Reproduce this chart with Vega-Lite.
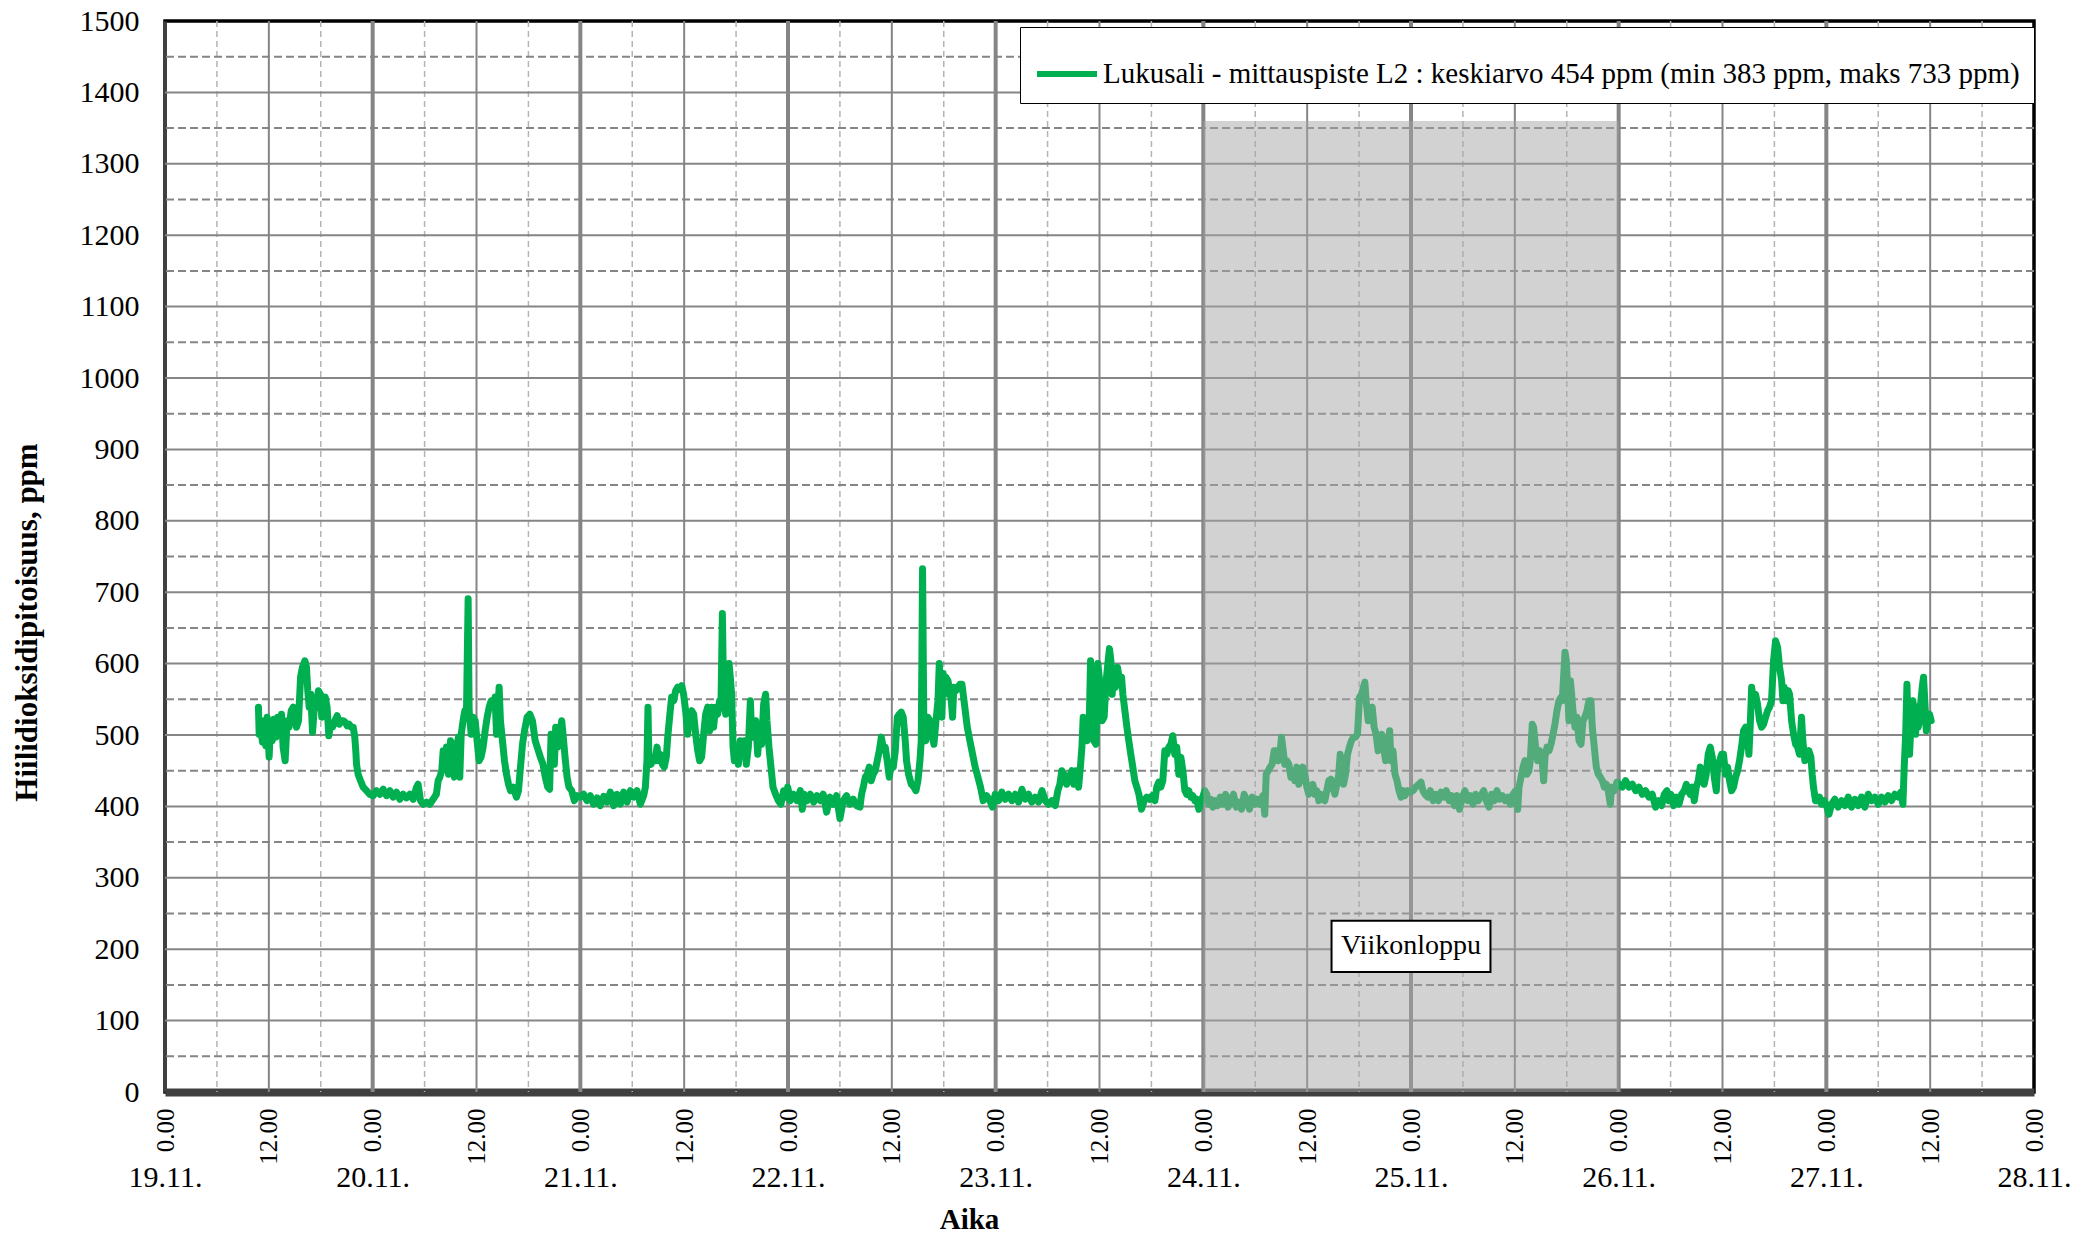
{
  "$schema": "https://vega.github.io/schema/vega-lite/v6.json",
  "width": 1869,
  "height": 1071,
  "autosize": {"type": "none"},
  "padding": {"left": 165, "top": 21, "right": 62, "bottom": 143},
  "background": "#ffffff",
  "config": {
    "font": "Liberation Serif",
    "view": {"stroke": "#000000", "strokeWidth": 3.5},
    "axis": {"labelFont": "Liberation Serif", "titleFont": "Liberation Serif", "labelColor": "#000000", "titleColor": "#000000", "ticks": false, "labelFlush": false, "labelOverlap": false, "grid": false}
  },
  "datasets": {
    "co2": [
      {"t":"2012-11-19T10:48","ppm":539},{"t":"2012-11-19T10:53","ppm":501},{"t":"2012-11-19T11:04","ppm":508},{"t":"2012-11-19T11:16","ppm":490},{"t":"2012-11-19T11:25","ppm":520},{"t":"2012-11-19T11:39","ppm":485},{"t":"2012-11-19T11:48","ppm":525},{"t":"2012-11-19T12:02","ppm":469},{"t":"2012-11-19T12:12","ppm":515},{"t":"2012-11-19T12:23","ppm":492},{"t":"2012-11-19T12:35","ppm":522},{"t":"2012-11-19T12:49","ppm":497},{"t":"2012-11-19T13:02","ppm":525},{"t":"2012-11-19T13:16","ppm":501},{"t":"2012-11-19T13:28","ppm":529},{"t":"2012-11-19T13:39","ppm":483},{"t":"2012-11-19T13:53","ppm":464},{"t":"2012-11-19T14:07","ppm":520},{"t":"2012-11-19T14:21","ppm":511},{"t":"2012-11-19T14:35","ppm":534},{"t":"2012-11-19T14:49","ppm":539},{"t":"2012-11-19T15:03","ppm":534},{"t":"2012-11-19T15:12","ppm":511},{"t":"2012-11-19T15:26","ppm":520},{"t":"2012-11-19T15:40","ppm":581},{"t":"2012-11-19T15:53","ppm":595},{"t":"2012-11-19T16:10","ppm":604},{"t":"2012-11-19T16:21","ppm":595},{"t":"2012-11-19T16:30","ppm":562},{"t":"2012-11-19T16:40","ppm":539},{"t":"2012-11-19T16:51","ppm":557},{"t":"2012-11-19T17:03","ppm":504},{"t":"2012-11-19T17:14","ppm":534},{"t":"2012-11-19T17:30","ppm":543},{"t":"2012-11-19T17:44","ppm":562},{"t":"2012-11-19T17:58","ppm":557},{"t":"2012-11-19T18:07","ppm":525},{"t":"2012-11-19T18:17","ppm":548},{"t":"2012-11-19T18:31","ppm":553},{"t":"2012-11-19T18:44","ppm":539},{"t":"2012-11-19T18:56","ppm":499},{"t":"2012-11-19T19:08","ppm":515},{"t":"2012-11-19T19:21","ppm":511},{"t":"2012-11-19T19:38","ppm":520},{"t":"2012-11-19T19:54","ppm":527},{"t":"2012-11-19T20:08","ppm":515},{"t":"2012-11-19T20:21","ppm":520},{"t":"2012-11-19T20:35","ppm":520},{"t":"2012-11-19T20:49","ppm":518},{"t":"2012-11-19T21:03","ppm":513},{"t":"2012-11-19T21:17","ppm":515},{"t":"2012-11-19T21:31","ppm":511},{"t":"2012-11-19T21:45","ppm":511},{"t":"2012-11-19T21:56","ppm":497},{"t":"2012-11-19T22:03","ppm":478},{"t":"2012-11-19T22:08","ppm":459},{"t":"2012-11-19T22:19","ppm":445},{"t":"2012-11-19T22:36","ppm":436},{"t":"2012-11-19T22:54","ppm":427},{"t":"2012-11-19T23:17","ppm":422},{"t":"2012-11-19T23:40","ppm":417},
      {"t":"2012-11-20T00:03","ppm":415},{"t":"2012-11-20T00:26","ppm":422},{"t":"2012-11-20T00:50","ppm":417},{"t":"2012-11-20T01:13","ppm":424},{"t":"2012-11-20T01:36","ppm":415},{"t":"2012-11-20T01:59","ppm":422},{"t":"2012-11-20T02:22","ppm":413},{"t":"2012-11-20T02:45","ppm":420},{"t":"2012-11-20T03:08","ppm":410},{"t":"2012-11-20T03:31","ppm":417},{"t":"2012-11-20T03:54","ppm":412},{"t":"2012-11-20T04:18","ppm":417},{"t":"2012-11-20T04:41","ppm":410},{"t":"2012-11-20T05:04","ppm":427},{"t":"2012-11-20T05:15","ppm":431},{"t":"2012-11-20T05:32","ppm":408},{"t":"2012-11-20T05:50","ppm":403},{"t":"2012-11-20T06:13","ppm":406},{"t":"2012-11-20T06:36","ppm":403},{"t":"2012-11-20T06:59","ppm":410},{"t":"2012-11-20T07:22","ppm":417},{"t":"2012-11-20T07:34","ppm":436},{"t":"2012-11-20T07:46","ppm":441},{"t":"2012-11-20T07:59","ppm":450},{"t":"2012-11-20T08:09","ppm":478},{"t":"2012-11-20T08:18","ppm":455},{"t":"2012-11-20T08:32","ppm":483},{"t":"2012-11-20T08:46","ppm":445},{"t":"2012-11-20T09:00","ppm":492},{"t":"2012-11-20T09:13","ppm":459},{"t":"2012-11-20T09:27","ppm":441},{"t":"2012-11-20T09:41","ppm":483},{"t":"2012-11-20T09:55","ppm":497},{"t":"2012-11-20T10:04","ppm":441},{"t":"2012-11-20T10:14","ppm":501},{"t":"2012-11-20T10:27","ppm":520},{"t":"2012-11-20T10:39","ppm":534},{"t":"2012-11-20T10:50","ppm":525},{"t":"2012-11-20T11:02","ppm":691},{"t":"2012-11-20T11:09","ppm":534},{"t":"2012-11-20T11:23","ppm":501},{"t":"2012-11-20T11:37","ppm":525},{"t":"2012-11-20T11:51","ppm":520},{"t":"2012-11-20T12:04","ppm":492},{"t":"2012-11-20T12:18","ppm":464},{"t":"2012-11-20T12:32","ppm":469},{"t":"2012-11-20T12:46","ppm":483},{"t":"2012-11-20T13:00","ppm":506},{"t":"2012-11-20T13:14","ppm":525},{"t":"2012-11-20T13:28","ppm":539},{"t":"2012-11-20T13:42","ppm":548},{"t":"2012-11-20T13:55","ppm":539},{"t":"2012-11-20T14:09","ppm":553},{"t":"2012-11-20T14:19","ppm":501},{"t":"2012-11-20T14:30","ppm":543},{"t":"2012-11-20T14:37","ppm":567},{"t":"2012-11-20T14:46","ppm":520},{"t":"2012-11-20T15:00","ppm":492},{"t":"2012-11-20T15:14","ppm":464},{"t":"2012-11-20T15:28","ppm":445},{"t":"2012-11-20T15:42","ppm":431},{"t":"2012-11-20T15:56","ppm":422},{"t":"2012-11-20T16:14","ppm":427},{"t":"2012-11-20T16:37","ppm":413},{"t":"2012-11-20T16:51","ppm":422},{"t":"2012-11-20T17:05","ppm":455},{"t":"2012-11-20T17:19","ppm":487},{"t":"2012-11-20T17:33","ppm":506},{"t":"2012-11-20T17:51","ppm":525},{"t":"2012-11-20T18:10","ppm":529},{"t":"2012-11-20T18:28","ppm":520},{"t":"2012-11-20T18:47","ppm":492},{"t":"2012-11-20T19:23","ppm":469},{"t":"2012-11-20T19:41","ppm":459},{"t":"2012-11-20T19:57","ppm":441},{"t":"2012-11-20T20:14","ppm":427},{"t":"2012-11-20T20:27","ppm":424},{"t":"2012-11-20T20:37","ppm":501},{"t":"2012-11-20T20:48","ppm":483},{"t":"2012-11-20T21:00","ppm":459},{"t":"2012-11-20T21:09","ppm":511},{"t":"2012-11-20T21:23","ppm":483},{"t":"2012-11-20T21:37","ppm":501},{"t":"2012-11-20T21:51","ppm":520},{"t":"2012-11-20T22:00","ppm":501},{"t":"2012-11-20T22:14","ppm":469},{"t":"2012-11-20T22:28","ppm":441},{"t":"2012-11-20T22:41","ppm":427},{"t":"2012-11-20T23:00","ppm":422},{"t":"2012-11-20T23:18","ppm":408},{"t":"2012-11-20T23:37","ppm":415},
      {"t":"2012-11-21T00:00","ppm":413},{"t":"2012-11-21T00:23","ppm":417},{"t":"2012-11-21T00:46","ppm":408},{"t":"2012-11-21T01:09","ppm":415},{"t":"2012-11-21T01:32","ppm":403},{"t":"2012-11-21T01:56","ppm":412},{"t":"2012-11-21T02:19","ppm":401},{"t":"2012-11-21T02:42","ppm":414},{"t":"2012-11-21T03:05","ppm":406},{"t":"2012-11-21T03:28","ppm":420},{"t":"2012-11-21T03:51","ppm":401},{"t":"2012-11-21T04:14","ppm":417},{"t":"2012-11-21T04:37","ppm":403},{"t":"2012-11-21T05:00","ppm":420},{"t":"2012-11-21T05:24","ppm":406},{"t":"2012-11-21T05:47","ppm":422},{"t":"2012-11-21T06:10","ppm":413},{"t":"2012-11-21T06:33","ppm":422},{"t":"2012-11-21T06:56","ppm":403},{"t":"2012-11-21T07:19","ppm":415},{"t":"2012-11-21T07:31","ppm":427},{"t":"2012-11-21T07:42","ppm":464},{"t":"2012-11-21T07:49","ppm":539},{"t":"2012-11-21T07:56","ppm":464},{"t":"2012-11-21T08:10","ppm":459},{"t":"2012-11-21T08:24","ppm":469},{"t":"2012-11-21T08:38","ppm":464},{"t":"2012-11-21T08:52","ppm":483},{"t":"2012-11-21T09:03","ppm":464},{"t":"2012-11-21T09:15","ppm":473},{"t":"2012-11-21T09:29","ppm":459},{"t":"2012-11-21T09:42","ppm":455},{"t":"2012-11-21T09:56","ppm":469},{"t":"2012-11-21T10:06","ppm":497},{"t":"2012-11-21T10:19","ppm":525},{"t":"2012-11-21T10:33","ppm":553},{"t":"2012-11-21T10:47","ppm":548},{"t":"2012-11-21T11:01","ppm":562},{"t":"2012-11-21T11:15","ppm":567},{"t":"2012-11-21T11:29","ppm":564},{"t":"2012-11-21T11:43","ppm":569},{"t":"2012-11-21T11:56","ppm":557},{"t":"2012-11-21T12:10","ppm":534},{"t":"2012-11-21T12:24","ppm":501},{"t":"2012-11-21T12:38","ppm":529},{"t":"2012-11-21T12:52","ppm":534},{"t":"2012-11-21T13:06","ppm":529},{"t":"2012-11-21T13:20","ppm":501},{"t":"2012-11-21T13:34","ppm":478},{"t":"2012-11-21T13:47","ppm":464},{"t":"2012-11-21T14:01","ppm":469},{"t":"2012-11-21T14:15","ppm":501},{"t":"2012-11-21T14:29","ppm":529},{"t":"2012-11-21T14:43","ppm":539},{"t":"2012-11-21T14:57","ppm":506},{"t":"2012-11-21T15:11","ppm":539},{"t":"2012-11-21T15:24","ppm":511},{"t":"2012-11-21T15:38","ppm":539},{"t":"2012-11-21T15:52","ppm":529},{"t":"2012-11-21T16:06","ppm":548},{"t":"2012-11-21T16:15","ppm":539},{"t":"2012-11-21T16:25","ppm":670},{"t":"2012-11-21T16:34","ppm":548},{"t":"2012-11-21T16:48","ppm":529},{"t":"2012-11-21T17:02","ppm":548},{"t":"2012-11-21T17:11","ppm":600},{"t":"2012-11-21T17:20","ppm":581},{"t":"2012-11-21T17:29","ppm":557},{"t":"2012-11-21T17:39","ppm":483},{"t":"2012-11-21T17:48","ppm":464},{"t":"2012-11-21T18:02","ppm":483},{"t":"2012-11-21T18:16","ppm":459},{"t":"2012-11-21T18:29","ppm":492},{"t":"2012-11-21T18:43","ppm":473},{"t":"2012-11-21T18:57","ppm":492},{"t":"2012-11-21T19:11","ppm":459},{"t":"2012-11-21T19:25","ppm":483},{"t":"2012-11-21T19:39","ppm":548},{"t":"2012-11-21T19:48","ppm":501},{"t":"2012-11-21T20:02","ppm":497},{"t":"2012-11-21T20:16","ppm":520},{"t":"2012-11-21T20:30","ppm":473},{"t":"2012-11-21T20:43","ppm":511},{"t":"2012-11-21T20:57","ppm":487},{"t":"2012-11-21T21:11","ppm":543},{"t":"2012-11-21T21:25","ppm":557},{"t":"2012-11-21T21:34","ppm":520},{"t":"2012-11-21T21:48","ppm":483},{"t":"2012-11-21T22:02","ppm":455},{"t":"2012-11-21T22:16","ppm":427},{"t":"2012-11-21T22:34","ppm":417},{"t":"2012-11-21T22:53","ppm":408},{"t":"2012-11-21T23:11","ppm":403},{"t":"2012-11-21T23:30","ppm":422},{"t":"2012-11-21T23:44","ppm":413},{"t":"2012-11-21T23:58","ppm":427},
      {"t":"2012-11-22T00:16","ppm":408},{"t":"2012-11-22T00:39","ppm":417},{"t":"2012-11-22T01:02","ppm":408},{"t":"2012-11-22T01:25","ppm":422},{"t":"2012-11-22T01:39","ppm":396},{"t":"2012-11-22T01:53","ppm":417},{"t":"2012-11-22T02:12","ppm":408},{"t":"2012-11-22T02:35","ppm":417},{"t":"2012-11-22T02:58","ppm":406},{"t":"2012-11-22T03:21","ppm":415},{"t":"2012-11-22T03:44","ppm":408},{"t":"2012-11-22T04:04","ppm":417},{"t":"2012-11-22T04:28","ppm":392},{"t":"2012-11-22T04:51","ppm":413},{"t":"2012-11-22T05:14","ppm":403},{"t":"2012-11-22T05:37","ppm":415},{"t":"2012-11-22T06:00","ppm":383},{"t":"2012-11-22T06:23","ppm":408},{"t":"2012-11-22T06:46","ppm":415},{"t":"2012-11-22T07:09","ppm":403},{"t":"2012-11-22T07:32","ppm":410},{"t":"2012-11-22T07:56","ppm":401},{"t":"2012-11-22T08:19","ppm":399},{"t":"2012-11-22T08:30","ppm":417},{"t":"2012-11-22T08:42","ppm":427},{"t":"2012-11-22T08:56","ppm":441},{"t":"2012-11-22T09:10","ppm":445},{"t":"2012-11-22T09:23","ppm":455},{"t":"2012-11-22T09:37","ppm":436},{"t":"2012-11-22T09:51","ppm":445},{"t":"2012-11-22T10:05","ppm":450},{"t":"2012-11-22T10:19","ppm":464},{"t":"2012-11-22T10:33","ppm":478},{"t":"2012-11-22T10:47","ppm":497},{"t":"2012-11-22T11:00","ppm":483},{"t":"2012-11-22T11:14","ppm":483},{"t":"2012-11-22T11:28","ppm":464},{"t":"2012-11-22T11:42","ppm":441},{"t":"2012-11-22T11:56","ppm":459},{"t":"2012-11-22T12:10","ppm":455},{"t":"2012-11-22T12:24","ppm":478},{"t":"2012-11-22T12:38","ppm":525},{"t":"2012-11-22T12:51","ppm":529},{"t":"2012-11-22T13:05","ppm":532},{"t":"2012-11-22T13:19","ppm":525},{"t":"2012-11-22T13:33","ppm":492},{"t":"2012-11-22T13:42","ppm":464},{"t":"2012-11-22T13:56","ppm":445},{"t":"2012-11-22T14:15","ppm":431},{"t":"2012-11-22T14:33","ppm":427},{"t":"2012-11-22T14:47","ppm":422},{"t":"2012-11-22T15:01","ppm":436},{"t":"2012-11-22T15:15","ppm":464},{"t":"2012-11-22T15:24","ppm":492},{"t":"2012-11-22T15:33","ppm":733},{"t":"2012-11-22T15:42","ppm":511},{"t":"2012-11-22T15:56","ppm":492},{"t":"2012-11-22T16:10","ppm":525},{"t":"2012-11-22T16:24","ppm":520},{"t":"2012-11-22T16:38","ppm":501},{"t":"2012-11-22T16:52","ppm":487},{"t":"2012-11-22T17:06","ppm":520},{"t":"2012-11-22T17:20","ppm":548},{"t":"2012-11-22T17:29","ppm":600},{"t":"2012-11-22T17:38","ppm":557},{"t":"2012-11-22T17:47","ppm":525},{"t":"2012-11-22T17:56","ppm":586},{"t":"2012-11-22T18:06","ppm":557},{"t":"2012-11-22T18:15","ppm":581},{"t":"2012-11-22T18:29","ppm":576},{"t":"2012-11-22T18:38","ppm":567},{"t":"2012-11-22T18:52","ppm":548},{"t":"2012-11-22T19:01","ppm":525},{"t":"2012-11-22T19:10","ppm":567},{"t":"2012-11-22T19:24","ppm":562},{"t":"2012-11-22T19:38","ppm":567},{"t":"2012-11-22T19:52","ppm":571},{"t":"2012-11-22T20:06","ppm":571},{"t":"2012-11-22T20:15","ppm":557},{"t":"2012-11-22T20:29","ppm":534},{"t":"2012-11-22T20:43","ppm":511},{"t":"2012-11-22T21:01","ppm":492},{"t":"2012-11-22T21:20","ppm":473},{"t":"2012-11-22T21:38","ppm":455},{"t":"2012-11-22T21:57","ppm":441},{"t":"2012-11-22T22:15","ppm":427},{"t":"2012-11-22T22:34","ppm":408},{"t":"2012-11-22T22:57","ppm":415},{"t":"2012-11-22T23:20","ppm":408},{"t":"2012-11-22T23:38","ppm":399},{"t":"2012-11-22T23:57","ppm":417},
      {"t":"2012-11-23T00:20","ppm":408},{"t":"2012-11-23T00:43","ppm":420},{"t":"2012-11-23T01:06","ppm":410},{"t":"2012-11-23T01:29","ppm":417},{"t":"2012-11-23T01:53","ppm":408},{"t":"2012-11-23T02:16","ppm":417},{"t":"2012-11-23T02:39","ppm":406},{"t":"2012-11-23T03:02","ppm":424},{"t":"2012-11-23T03:25","ppm":410},{"t":"2012-11-23T03:48","ppm":417},{"t":"2012-11-23T04:11","ppm":406},{"t":"2012-11-23T04:34","ppm":413},{"t":"2012-11-23T04:57","ppm":406},{"t":"2012-11-23T05:21","ppm":422},{"t":"2012-11-23T05:44","ppm":408},{"t":"2012-11-23T06:07","ppm":403},{"t":"2012-11-23T06:30","ppm":408},{"t":"2012-11-23T06:53","ppm":401},{"t":"2012-11-23T07:11","ppm":422},{"t":"2012-11-23T07:25","ppm":431},{"t":"2012-11-23T07:39","ppm":450},{"t":"2012-11-23T07:53","ppm":445},{"t":"2012-11-23T08:12","ppm":431},{"t":"2012-11-23T08:30","ppm":441},{"t":"2012-11-23T08:49","ppm":450},{"t":"2012-11-23T09:02","ppm":431},{"t":"2012-11-23T09:16","ppm":450},{"t":"2012-11-23T09:35","ppm":427},{"t":"2012-11-23T09:49","ppm":459},{"t":"2012-11-23T09:58","ppm":483},{"t":"2012-11-23T10:07","ppm":525},{"t":"2012-11-23T10:21","ppm":511},{"t":"2012-11-23T10:35","ppm":492},{"t":"2012-11-23T10:49","ppm":520},{"t":"2012-11-23T10:58","ppm":604},{"t":"2012-11-23T11:12","ppm":539},{"t":"2012-11-23T11:21","ppm":492},{"t":"2012-11-23T11:35","ppm":487},{"t":"2012-11-23T11:49","ppm":600},{"t":"2012-11-23T12:05","ppm":567},{"t":"2012-11-23T12:18","ppm":520},{"t":"2012-11-23T12:32","ppm":525},{"t":"2012-11-23T12:46","ppm":576},{"t":"2012-11-23T13:00","ppm":604},{"t":"2012-11-23T13:09","ppm":621},{"t":"2012-11-23T13:19","ppm":604},{"t":"2012-11-23T13:28","ppm":557},{"t":"2012-11-23T13:37","ppm":590},{"t":"2012-11-23T13:51","ppm":567},{"t":"2012-11-23T14:05","ppm":595},{"t":"2012-11-23T14:19","ppm":576},{"t":"2012-11-23T14:33","ppm":581},{"t":"2012-11-23T14:42","ppm":557},{"t":"2012-11-23T14:56","ppm":534},{"t":"2012-11-23T15:10","ppm":511},{"t":"2012-11-23T15:23","ppm":492},{"t":"2012-11-23T15:37","ppm":473},{"t":"2012-11-23T15:51","ppm":455},{"t":"2012-11-23T16:05","ppm":436},{"t":"2012-11-23T16:19","ppm":427},{"t":"2012-11-23T16:33","ppm":417},{"t":"2012-11-23T16:51","ppm":396},{"t":"2012-11-23T17:10","ppm":408},{"t":"2012-11-23T17:28","ppm":413},{"t":"2012-11-23T17:47","ppm":410},{"t":"2012-11-23T18:05","ppm":415},{"t":"2012-11-23T18:24","ppm":408},{"t":"2012-11-23T18:37","ppm":427},{"t":"2012-11-23T18:51","ppm":434},{"t":"2012-11-23T19:05","ppm":427},{"t":"2012-11-23T19:19","ppm":436},{"t":"2012-11-23T19:33","ppm":478},{"t":"2012-11-23T19:47","ppm":473},{"t":"2012-11-23T20:01","ppm":483},{"t":"2012-11-23T20:15","ppm":487},{"t":"2012-11-23T20:28","ppm":499},{"t":"2012-11-23T20:42","ppm":473},{"t":"2012-11-23T20:56","ppm":483},{"t":"2012-11-23T21:10","ppm":445},{"t":"2012-11-23T21:24","ppm":469},{"t":"2012-11-23T21:38","ppm":450},{"t":"2012-11-23T21:52","ppm":422},{"t":"2012-11-23T22:05","ppm":417},{"t":"2012-11-23T22:19","ppm":422},{"t":"2012-11-23T22:33","ppm":413},{"t":"2012-11-23T22:47","ppm":415},{"t":"2012-11-23T23:01","ppm":408},{"t":"2012-11-23T23:15","ppm":410},{"t":"2012-11-23T23:29","ppm":396},{"t":"2012-11-23T23:43","ppm":408},{"t":"2012-11-23T23:56","ppm":413},
      {"t":"2012-11-24T00:10","ppm":422},{"t":"2012-11-24T00:24","ppm":417},{"t":"2012-11-24T00:38","ppm":403},{"t":"2012-11-24T00:52","ppm":410},{"t":"2012-11-24T01:06","ppm":399},{"t":"2012-11-24T01:20","ppm":408},{"t":"2012-11-24T01:38","ppm":401},{"t":"2012-11-24T01:57","ppm":413},{"t":"2012-11-24T02:15","ppm":403},{"t":"2012-11-24T02:34","ppm":417},{"t":"2012-11-24T02:52","ppm":399},{"t":"2012-11-24T03:11","ppm":410},{"t":"2012-11-24T03:29","ppm":417},{"t":"2012-11-24T03:48","ppm":399},{"t":"2012-11-24T04:06","ppm":406},{"t":"2012-11-24T04:25","ppm":396},{"t":"2012-11-24T04:43","ppm":417},{"t":"2012-11-24T05:02","ppm":408},{"t":"2012-11-24T05:20","ppm":396},{"t":"2012-11-24T05:39","ppm":413},{"t":"2012-11-24T05:57","ppm":403},{"t":"2012-11-24T06:16","ppm":410},{"t":"2012-11-24T06:34","ppm":403},{"t":"2012-11-24T06:53","ppm":415},{"t":"2012-11-24T07:06","ppm":389},{"t":"2012-11-24T07:16","ppm":445},{"t":"2012-11-24T07:30","ppm":450},{"t":"2012-11-24T07:43","ppm":455},{"t":"2012-11-24T07:57","ppm":459},{"t":"2012-11-24T08:11","ppm":478},{"t":"2012-11-24T08:25","ppm":478},{"t":"2012-11-24T08:39","ppm":464},{"t":"2012-11-24T08:53","ppm":478},{"t":"2012-11-24T09:02","ppm":497},{"t":"2012-11-24T09:11","ppm":483},{"t":"2012-11-24T09:25","ppm":459},{"t":"2012-11-24T09:39","ppm":464},{"t":"2012-11-24T09:53","ppm":459},{"t":"2012-11-24T10:07","ppm":441},{"t":"2012-11-24T10:20","ppm":445},{"t":"2012-11-24T10:34","ppm":436},{"t":"2012-11-24T10:48","ppm":455},{"t":"2012-11-24T11:02","ppm":431},{"t":"2012-11-24T11:16","ppm":441},{"t":"2012-11-24T11:30","ppm":455},{"t":"2012-11-24T11:44","ppm":445},{"t":"2012-11-24T11:58","ppm":427},{"t":"2012-11-24T12:11","ppm":417},{"t":"2012-11-24T12:25","ppm":422},{"t":"2012-11-24T12:39","ppm":431},{"t":"2012-11-24T12:53","ppm":417},{"t":"2012-11-24T13:07","ppm":422},{"t":"2012-11-24T13:21","ppm":408},{"t":"2012-11-24T13:35","ppm":417},{"t":"2012-11-24T13:48","ppm":410},{"t":"2012-11-24T14:02","ppm":408},{"t":"2012-11-24T14:16","ppm":422},{"t":"2012-11-24T14:30","ppm":436},{"t":"2012-11-24T14:44","ppm":438},{"t":"2012-11-24T14:58","ppm":427},{"t":"2012-11-24T15:12","ppm":417},{"t":"2012-11-24T15:26","ppm":431},{"t":"2012-11-24T15:39","ppm":445},{"t":"2012-11-24T15:49","ppm":473},{"t":"2012-11-24T15:58","ppm":464},{"t":"2012-11-24T16:12","ppm":431},{"t":"2012-11-24T16:26","ppm":445},{"t":"2012-11-24T16:40","ppm":473},{"t":"2012-11-24T16:53","ppm":483},{"t":"2012-11-24T17:07","ppm":492},{"t":"2012-11-24T17:21","ppm":497},{"t":"2012-11-24T17:35","ppm":497},{"t":"2012-11-24T17:49","ppm":501},{"t":"2012-11-24T18:03","ppm":553},{"t":"2012-11-24T18:17","ppm":557},{"t":"2012-11-24T18:30","ppm":567},{"t":"2012-11-24T18:40","ppm":574},{"t":"2012-11-24T18:49","ppm":548},{"t":"2012-11-24T19:03","ppm":520},{"t":"2012-11-24T19:17","ppm":534},{"t":"2012-11-24T19:31","ppm":539},{"t":"2012-11-24T19:44","ppm":511},{"t":"2012-11-24T19:58","ppm":501},{"t":"2012-11-24T20:12","ppm":478},{"t":"2012-11-24T20:23","ppm":492},{"t":"2012-11-24T20:37","ppm":501},{"t":"2012-11-24T20:50","ppm":483},{"t":"2012-11-24T21:04","ppm":464},{"t":"2012-11-24T21:18","ppm":473},{"t":"2012-11-24T21:32","ppm":506},{"t":"2012-11-24T21:41","ppm":464},{"t":"2012-11-24T21:55","ppm":478},{"t":"2012-11-24T22:09","ppm":445},{"t":"2012-11-24T22:23","ppm":436},{"t":"2012-11-24T22:37","ppm":422},{"t":"2012-11-24T22:51","ppm":413},{"t":"2012-11-24T23:05","ppm":422},{"t":"2012-11-24T23:18","ppm":415},{"t":"2012-11-24T23:37","ppm":422},{"t":"2012-11-24T23:55","ppm":420},
      {"t":"2012-11-25T00:14","ppm":422},{"t":"2012-11-25T00:32","ppm":427},{"t":"2012-11-25T00:55","ppm":431},{"t":"2012-11-25T01:09","ppm":434},{"t":"2012-11-25T01:23","ppm":422},{"t":"2012-11-25T01:37","ppm":417},{"t":"2012-11-25T01:56","ppm":413},{"t":"2012-11-25T02:14","ppm":422},{"t":"2012-11-25T02:33","ppm":408},{"t":"2012-11-25T02:51","ppm":417},{"t":"2012-11-25T03:10","ppm":408},{"t":"2012-11-25T03:28","ppm":420},{"t":"2012-11-25T03:47","ppm":413},{"t":"2012-11-25T04:05","ppm":422},{"t":"2012-11-25T04:24","ppm":408},{"t":"2012-11-25T04:42","ppm":415},{"t":"2012-11-25T05:01","ppm":401},{"t":"2012-11-25T05:19","ppm":415},{"t":"2012-11-25T05:37","ppm":396},{"t":"2012-11-25T05:56","ppm":413},{"t":"2012-11-25T06:14","ppm":422},{"t":"2012-11-25T06:33","ppm":408},{"t":"2012-11-25T06:51","ppm":415},{"t":"2012-11-25T07:10","ppm":403},{"t":"2012-11-25T07:28","ppm":417},{"t":"2012-11-25T07:47","ppm":408},{"t":"2012-11-25T08:05","ppm":415},{"t":"2012-11-25T08:24","ppm":422},{"t":"2012-11-25T08:42","ppm":408},{"t":"2012-11-25T09:01","ppm":399},{"t":"2012-11-25T09:19","ppm":417},{"t":"2012-11-25T09:38","ppm":408},{"t":"2012-11-25T09:56","ppm":422},{"t":"2012-11-25T10:15","ppm":410},{"t":"2012-11-25T10:33","ppm":415},{"t":"2012-11-25T10:52","ppm":408},{"t":"2012-11-25T11:10","ppm":413},{"t":"2012-11-25T11:29","ppm":403},{"t":"2012-11-25T11:47","ppm":417},{"t":"2012-11-25T12:06","ppm":422},{"t":"2012-11-25T12:20","ppm":396},{"t":"2012-11-25T12:29","ppm":427},{"t":"2012-11-25T12:43","ppm":441},{"t":"2012-11-25T12:57","ppm":455},{"t":"2012-11-25T13:10","ppm":464},{"t":"2012-11-25T13:24","ppm":445},{"t":"2012-11-25T13:38","ppm":450},{"t":"2012-11-25T13:47","ppm":464},{"t":"2012-11-25T14:01","ppm":515},{"t":"2012-11-25T14:10","ppm":511},{"t":"2012-11-25T14:24","ppm":483},{"t":"2012-11-25T14:38","ppm":464},{"t":"2012-11-25T14:52","ppm":478},{"t":"2012-11-25T15:06","ppm":473},{"t":"2012-11-25T15:20","ppm":436},{"t":"2012-11-25T15:29","ppm":469},{"t":"2012-11-25T15:43","ppm":483},{"t":"2012-11-25T15:57","ppm":478},{"t":"2012-11-25T16:11","ppm":487},{"t":"2012-11-25T16:25","ppm":501},{"t":"2012-11-25T16:38","ppm":515},{"t":"2012-11-25T16:52","ppm":534},{"t":"2012-11-25T17:06","ppm":548},{"t":"2012-11-25T17:20","ppm":553},{"t":"2012-11-25T17:29","ppm":548},{"t":"2012-11-25T17:38","ppm":581},{"t":"2012-11-25T17:48","ppm":616},{"t":"2012-11-25T17:57","ppm":604},{"t":"2012-11-25T18:06","ppm":567},{"t":"2012-11-25T18:15","ppm":520},{"t":"2012-11-25T18:25","ppm":576},{"t":"2012-11-25T18:34","ppm":557},{"t":"2012-11-25T18:43","ppm":534},{"t":"2012-11-25T18:57","ppm":511},{"t":"2012-11-25T19:11","ppm":525},{"t":"2012-11-25T19:25","ppm":492},{"t":"2012-11-25T19:39","ppm":487},{"t":"2012-11-25T19:53","ppm":520},{"t":"2012-11-25T20:06","ppm":525},{"t":"2012-11-25T20:20","ppm":534},{"t":"2012-11-25T20:34","ppm":548},{"t":"2012-11-25T20:48","ppm":548},{"t":"2012-11-25T20:57","ppm":511},{"t":"2012-11-25T21:11","ppm":483},{"t":"2012-11-25T21:25","ppm":455},{"t":"2012-11-25T21:39","ppm":445},{"t":"2012-11-25T21:53","ppm":441},{"t":"2012-11-25T22:07","ppm":436},{"t":"2012-11-25T22:20","ppm":427},{"t":"2012-11-25T22:34","ppm":431},{"t":"2012-11-25T22:48","ppm":422},{"t":"2012-11-25T23:02","ppm":403},{"t":"2012-11-25T23:11","ppm":427},{"t":"2012-11-25T23:30","ppm":422},{"t":"2012-11-25T23:48","ppm":434},
      {"t":"2012-11-26T00:02","ppm":431},{"t":"2012-11-26T00:25","ppm":427},{"t":"2012-11-26T00:48","ppm":436},{"t":"2012-11-26T01:11","ppm":427},{"t":"2012-11-26T01:35","ppm":431},{"t":"2012-11-26T01:58","ppm":422},{"t":"2012-11-26T02:21","ppm":427},{"t":"2012-11-26T02:44","ppm":417},{"t":"2012-11-26T03:07","ppm":422},{"t":"2012-11-26T03:30","ppm":413},{"t":"2012-11-26T03:53","ppm":417},{"t":"2012-11-26T04:16","ppm":399},{"t":"2012-11-26T04:39","ppm":408},{"t":"2012-11-26T04:58","ppm":401},{"t":"2012-11-26T05:16","ppm":417},{"t":"2012-11-26T05:35","ppm":422},{"t":"2012-11-26T05:48","ppm":408},{"t":"2012-11-26T06:02","ppm":417},{"t":"2012-11-26T06:21","ppm":401},{"t":"2012-11-26T06:39","ppm":413},{"t":"2012-11-26T06:58","ppm":403},{"t":"2012-11-26T07:16","ppm":417},{"t":"2012-11-26T07:35","ppm":422},{"t":"2012-11-26T07:49","ppm":431},{"t":"2012-11-26T08:02","ppm":422},{"t":"2012-11-26T08:16","ppm":417},{"t":"2012-11-26T08:30","ppm":427},{"t":"2012-11-26T08:44","ppm":408},{"t":"2012-11-26T08:58","ppm":427},{"t":"2012-11-26T09:12","ppm":436},{"t":"2012-11-26T09:26","ppm":455},{"t":"2012-11-26T09:40","ppm":450},{"t":"2012-11-26T09:53","ppm":431},{"t":"2012-11-26T10:07","ppm":445},{"t":"2012-11-26T10:21","ppm":473},{"t":"2012-11-26T10:35","ppm":483},{"t":"2012-11-26T10:49","ppm":469},{"t":"2012-11-26T11:03","ppm":441},{"t":"2012-11-26T11:17","ppm":422},{"t":"2012-11-26T11:26","ppm":455},{"t":"2012-11-26T11:40","ppm":464},{"t":"2012-11-26T11:54","ppm":473},{"t":"2012-11-26T12:07","ppm":473},{"t":"2012-11-26T12:21","ppm":445},{"t":"2012-11-26T12:35","ppm":455},{"t":"2012-11-26T12:49","ppm":436},{"t":"2012-11-26T13:03","ppm":422},{"t":"2012-11-26T13:17","ppm":427},{"t":"2012-11-26T13:31","ppm":441},{"t":"2012-11-26T13:45","ppm":450},{"t":"2012-11-26T13:58","ppm":464},{"t":"2012-11-26T14:12","ppm":483},{"t":"2012-11-26T14:26","ppm":506},{"t":"2012-11-26T14:40","ppm":511},{"t":"2012-11-26T14:54","ppm":497},{"t":"2012-11-26T15:03","ppm":473},{"t":"2012-11-26T15:12","ppm":511},{"t":"2012-11-26T15:22","ppm":567},{"t":"2012-11-26T15:35","ppm":548},{"t":"2012-11-26T15:49","ppm":557},{"t":"2012-11-26T16:03","ppm":543},{"t":"2012-11-26T16:17","ppm":520},{"t":"2012-11-26T16:31","ppm":511},{"t":"2012-11-26T16:45","ppm":515},{"t":"2012-11-26T16:59","ppm":525},{"t":"2012-11-26T17:13","ppm":534},{"t":"2012-11-26T17:26","ppm":539},{"t":"2012-11-26T17:40","ppm":548},{"t":"2012-11-26T17:54","ppm":604},{"t":"2012-11-26T18:08","ppm":632},{"t":"2012-11-26T18:22","ppm":623},{"t":"2012-11-26T18:36","ppm":595},{"t":"2012-11-26T18:50","ppm":576},{"t":"2012-11-26T18:59","ppm":548},{"t":"2012-11-26T19:08","ppm":567},{"t":"2012-11-26T19:22","ppm":548},{"t":"2012-11-26T19:36","ppm":562},{"t":"2012-11-26T19:45","ppm":557},{"t":"2012-11-26T19:59","ppm":520},{"t":"2012-11-26T20:13","ppm":501},{"t":"2012-11-26T20:27","ppm":487},{"t":"2012-11-26T20:41","ppm":483},{"t":"2012-11-26T20:54","ppm":473},{"t":"2012-11-26T21:08","ppm":525},{"t":"2012-11-26T21:17","ppm":492},{"t":"2012-11-26T21:31","ppm":464},{"t":"2012-11-26T21:45","ppm":473},{"t":"2012-11-26T21:59","ppm":478},{"t":"2012-11-26T22:13","ppm":469},{"t":"2012-11-26T22:22","ppm":445},{"t":"2012-11-26T22:31","ppm":427},{"t":"2012-11-26T22:45","ppm":408},{"t":"2012-11-26T22:59","ppm":408},{"t":"2012-11-26T23:13","ppm":413},{"t":"2012-11-26T23:27","ppm":403},{"t":"2012-11-26T23:45","ppm":408},
      {"t":"2012-11-27T00:04","ppm":399},{"t":"2012-11-27T00:18","ppm":389},{"t":"2012-11-27T00:36","ppm":403},{"t":"2012-11-27T00:59","ppm":410},{"t":"2012-11-27T01:22","ppm":399},{"t":"2012-11-27T01:46","ppm":408},{"t":"2012-11-27T02:09","ppm":401},{"t":"2012-11-27T02:32","ppm":413},{"t":"2012-11-27T02:55","ppm":399},{"t":"2012-11-27T03:18","ppm":410},{"t":"2012-11-27T03:41","ppm":401},{"t":"2012-11-27T04:04","ppm":413},{"t":"2012-11-27T04:27","ppm":399},{"t":"2012-11-27T04:50","ppm":417},{"t":"2012-11-27T05:14","ppm":408},{"t":"2012-11-27T05:37","ppm":413},{"t":"2012-11-27T06:00","ppm":403},{"t":"2012-11-27T06:23","ppm":413},{"t":"2012-11-27T06:46","ppm":406},{"t":"2012-11-27T07:09","ppm":415},{"t":"2012-11-27T07:32","ppm":408},{"t":"2012-11-27T07:55","ppm":417},{"t":"2012-11-27T08:19","ppm":413},{"t":"2012-11-27T08:37","ppm":420},{"t":"2012-11-27T08:51","ppm":403},{"t":"2012-11-27T09:00","ppm":455},{"t":"2012-11-27T09:10","ppm":501},{"t":"2012-11-27T09:19","ppm":571},{"t":"2012-11-27T09:28","ppm":501},{"t":"2012-11-27T09:37","ppm":473},{"t":"2012-11-27T09:46","ppm":511},{"t":"2012-11-27T10:00","ppm":548},{"t":"2012-11-27T10:10","ppm":529},{"t":"2012-11-27T10:19","ppm":501},{"t":"2012-11-27T10:28","ppm":539},{"t":"2012-11-27T10:37","ppm":511},{"t":"2012-11-27T10:47","ppm":520},{"t":"2012-11-27T10:56","ppm":548},{"t":"2012-11-27T11:05","ppm":567},{"t":"2012-11-27T11:14","ppm":581},{"t":"2012-11-27T11:24","ppm":543},{"t":"2012-11-27T11:33","ppm":506},{"t":"2012-11-27T11:42","ppm":525},{"t":"2012-11-27T11:56","ppm":529},{"t":"2012-11-27T12:07","ppm":520}
    ],
    "quarters": [{"t":"2012-11-19T06:00"},{"t":"2012-11-19T18:00"},{"t":"2012-11-20T06:00"},{"t":"2012-11-20T18:00"},{"t":"2012-11-21T06:00"},{"t":"2012-11-21T18:00"},{"t":"2012-11-22T06:00"},{"t":"2012-11-22T18:00"},{"t":"2012-11-23T06:00"},{"t":"2012-11-23T18:00"},{"t":"2012-11-24T06:00"},{"t":"2012-11-24T18:00"},{"t":"2012-11-25T06:00"},{"t":"2012-11-25T18:00"},{"t":"2012-11-26T06:00"},{"t":"2012-11-26T18:00"},{"t":"2012-11-27T06:00"},{"t":"2012-11-27T18:00"}],
    "noons": [{"t":"2012-11-19T12:00"},{"t":"2012-11-20T12:00"},{"t":"2012-11-21T12:00"},{"t":"2012-11-22T12:00"},{"t":"2012-11-23T12:00"},{"t":"2012-11-24T12:00"},{"t":"2012-11-25T12:00"},{"t":"2012-11-26T12:00"},{"t":"2012-11-27T12:00"}],
    "midnights": [{"t":"2012-11-20T00:00"},{"t":"2012-11-21T00:00"},{"t":"2012-11-22T00:00"},{"t":"2012-11-23T00:00"},{"t":"2012-11-24T00:00"},{"t":"2012-11-25T00:00"},{"t":"2012-11-26T00:00"},{"t":"2012-11-27T00:00"}],
    "hundreds": [{"v":100},{"v":200},{"v":300},{"v":400},{"v":500},{"v":600},{"v":700},{"v":800},{"v":900},{"v":1000},{"v":1100},{"v":1200},{"v":1300},{"v":1400}],
    "fifties": [{"v":50},{"v":150},{"v":250},{"v":350},{"v":450},{"v":550},{"v":650},{"v":750},{"v":850},{"v":950},{"v":1050},{"v":1150},{"v":1250},{"v":1350},{"v":1450}],
    "weekend": [{"start": "2012-11-24T00:00", "end": "2012-11-26T00:00", "top": 1360}],
    "note": [{"at": 1353801600000, "from": 1353768540000, "to": 1353834660000, "ppm": 204, "lo": 168, "hi": 240, "label": "Viikonloppu"}]
  },
  "layer": [
    {
      "data": {"name": "quarters", "format": {"parse": {"t": "utc:'%Y-%m-%dT%H:%M'"}}},
      "mark": {"type": "rule", "color": "#b4b4b4", "strokeWidth": 1.5, "strokeDash": [6, 4]},
      "encoding": {"x": {"field": "t", "type": "temporal", "scale": {"type": "utc", "domain": [1353283200000, 1354060800000], "nice": false}, "axis": null}}
    },
    {
      "data": {"name": "noons", "format": {"parse": {"t": "utc:'%Y-%m-%dT%H:%M'"}}},
      "mark": {"type": "rule", "color": "#858585", "strokeWidth": 2},
      "encoding": {"x": {"field": "t", "type": "temporal", "axis": null}}
    },
    {
      "data": {"name": "midnights", "format": {"parse": {"t": "utc:'%Y-%m-%dT%H:%M'"}}},
      "mark": {"type": "rule", "color": "#858585", "strokeWidth": 4},
      "encoding": {"x": {"field": "t", "type": "temporal", "axis": null}}
    },
    {
      "data": {"name": "hundreds"},
      "mark": {"type": "rule", "color": "#858585", "strokeWidth": 2},
      "encoding": {"y": {"field": "v", "type": "quantitative", "scale": {"domain": [0, 1500], "nice": false}, "axis": null}}
    },
    {
      "data": {"name": "fifties"},
      "mark": {"type": "rule", "color": "#858585", "strokeWidth": 2, "strokeDash": [8, 4]},
      "encoding": {"y": {"field": "v", "type": "quantitative", "axis": null}}
    },
    {
      "data": {"name": "co2", "format": {"parse": {"t": "utc:'%Y-%m-%dT%H:%M'"}}},
      "mark": {"type": "line", "strokeWidth": 7, "strokeJoin": "round", "strokeCap": "round"},
      "encoding": {
        "x": {
          "field": "t", "type": "temporal",
          "axis": {
            "orient": "bottom", "title": null,
            "values": [1353283200000, 1353326400000, 1353369600000, 1353412800000, 1353456000000, 1353499200000, 1353542400000, 1353585600000, 1353628800000, 1353672000000, 1353715200000, 1353758400000, 1353801600000, 1353844800000, 1353888000000, 1353931200000, 1353974400000, 1354017600000, 1354060800000],
            "format": "%-H.%M",
            "labelAngle": 270, "labelAlign": "right", "labelBaseline": "middle",
            "labelFontSize": 25, "labelPadding": 16,
            "domainColor": "#404040", "domainWidth": 8
          }
        },
        "y": {
          "field": "ppm", "type": "quantitative",
          "axis": {
            "title": "Hiilidioksidipitoisuus, ppm",
            "titleFontSize": 31, "titleFontWeight": "bold", "titleAngle": 270,
            "titleX": -138, "titleY": 601, "titleAlign": "center", "titleBaseline": "middle",
            "values": [0, 100, 200, 300, 400, 500, 600, 700, 800, 900, 1000, 1100, 1200, 1300, 1400, 1500],
            "format": "d",
            "labelFontSize": 30, "labelPadding": 26,
            "domainColor": "#404040", "domainWidth": 3
          }
        },
        "color": {
          "datum": "Lukusali - mittauspiste L2 : keskiarvo 454 ppm (min 383 ppm, maks 733 ppm)",
          "type": "nominal",
          "scale": {"range": ["#00B050"]},
          "legend": {
            "title": null, "orient": "none", "legendX": 855, "legendY": 6,
            "fillColor": "#ffffff", "strokeColor": "#000000", "padding": 14,
            "symbolType": "stroke", "symbolStrokeWidth": 6, "symbolSize": 3600,
            "labelFontSize": 29, "labelLimit": 2000, "labelOffset": 3, "labelColor": "#000000"
          }
        }
      }
    },
    {
      "data": {"name": "weekend", "format": {"parse": {"start": "utc:'%Y-%m-%dT%H:%M'", "end": "utc:'%Y-%m-%dT%H:%M'"}}},
      "mark": {"type": "rect", "color": "#A6A6A6", "opacity": 0.5},
      "encoding": {
        "x": {
          "field": "start", "type": "temporal",
          "axis": {
            "orient": "bottom",
            "values": [1353283200000, 1353369600000, 1353456000000, 1353542400000, 1353628800000, 1353715200000, 1353801600000, 1353888000000, 1353974400000, 1354060800000],
            "format": "%d.%m.",
            "labelAngle": 0, "labelAlign": "center", "labelBaseline": "middle",
            "labelFontSize": 30, "labelPadding": 85,
            "domain": false,
            "title": "Aika", "titleFontSize": 29, "titleFontWeight": "bold",
            "titleX": 804, "titleY": 127, "titleAlign": "center", "titleBaseline": "middle"
          }
        },
        "x2": {"field": "end"},
        "y": {"field": "top", "type": "quantitative", "axis": null},
        "y2": {"datum": 0}
      }
    },
    {
      "data": {"name": "note"},
      "mark": {"type": "rect", "fill": "#ffffff", "stroke": "#000000", "strokeWidth": 2},
      "encoding": {
        "x": {"field": "from", "type": "temporal", "axis": null},
        "x2": {"field": "to"},
        "y": {"field": "lo", "type": "quantitative", "axis": null},
        "y2": {"field": "hi"}
      }
    },
    {
      "data": {"name": "note"},
      "mark": {"type": "text", "fontSize": 28, "align": "center", "baseline": "middle", "color": "#000000"},
      "encoding": {
        "x": {"field": "at", "type": "temporal", "axis": null},
        "y": {"field": "ppm", "type": "quantitative", "axis": null},
        "text": {"field": "label"}
      }
    }
  ],
  "resolve": {"axis": {"x": "independent", "y": "independent"}}
}
